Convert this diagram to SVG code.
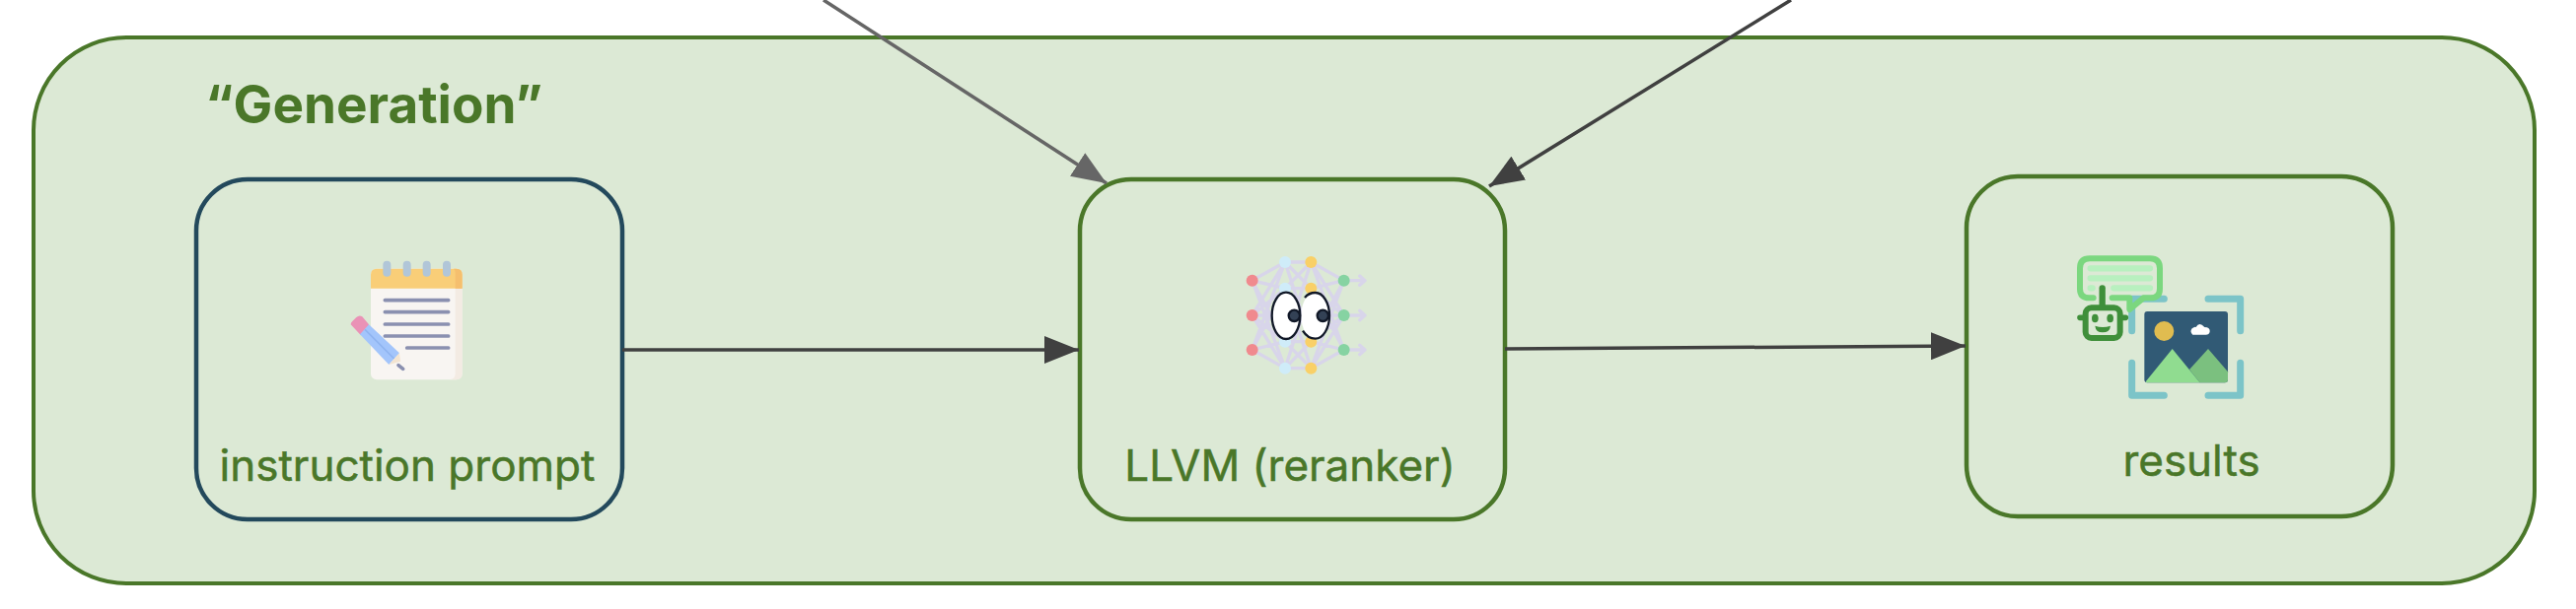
<svg xmlns="http://www.w3.org/2000/svg" width="2612" height="618" viewBox="0 0 2612 618">
<style>
text{font-family:Inter,"Liberation Sans",sans-serif;fill:#4a7729}
.lbl{font-size:44px;text-anchor:middle;stroke:#4a7729;stroke-width:.5}
.box{fill:none;stroke:#4a7729;stroke-width:4.5}
.c{fill:none;stroke:#404040;stroke-width:3.5}
.n{fill:none;stroke:#d8d5ea;stroke-width:10;stroke-linecap:round;stroke-linejoin:round}
</style>
<defs>
<marker id="ah" markerUnits="userSpaceOnUse" markerWidth="36" markerHeight="28" refX="35" refY="14" orient="auto"><path d="M0 0L35 14L0 28z" fill="#404040"/></marker>
<marker id="ahg" markerUnits="userSpaceOnUse" markerWidth="36" markerHeight="28" refX="35" refY="14" orient="auto"><path d="M0 0L35 14L0 28z" fill="#666"/></marker>
</defs>
<g id="generation-group">
<rect x="34" y="38" width="2536" height="554" rx="94" fill="#dce9d5" stroke="#4a7729" stroke-width="4"/>
<text x="208" y="125" font-size="53" font-weight="700">“Generation”</text>
</g>
<g id="instruction-prompt">
<rect x="199" y="182" width="432" height="345" rx="52" fill="none" stroke="#23495c" stroke-width="4.5"/>
<g transform="translate(340 250) scale(.33333)">
<rect x="108" y="68" width="278" height="338" rx="18" fill="#f8f5f2"/>
<path d="M365 128H386V388Q386 406 368 406H345Q365 406 365 388z" fill="#f3ebe3"/>
<path d="M108 128V86Q108 68 126 68H368Q386 68 386 86V128z" fill="#f9ce78"/>
<path d="M360 68H368Q386 68 386 86V128H365V80Q365 72 360 68z" fill="#f5bf6e"/>
<g fill="none" stroke="#b1c6d8" stroke-width="24" stroke-linecap="round"><path d="M157 56V80M218 56V80M278 56V80M339 56V80"/></g>
<g fill="none" stroke="#8a90b0" stroke-width="11" stroke-linecap="round"><path d="M151 164H344M151 200H344M151 237H344M151 273H344M218 309H344M192 362L206 373"/></g>
<path d="M73 214L102 238L195 325L163 360L75 268z" fill="#a3c5fb"/>
<path d="M90 253L179 342" stroke="#8fb4f0" stroke-width="5" fill="none"/>
<path d="M47 238Q47 232 52 228L64 216Q73 208 82 214L102 238L75 268z" fill="#ea92b6"/>
<path d="M195 325L198 350L163 360z" fill="#f3e4d0"/>
</g>
<text class="lbl" x="413" y="488">instruction prompt</text>
</g>
<g id="reranker">
<rect class="box" x="1095" y="182" width="431" height="345" rx="52"/>
<g transform="translate(1220 240) scale(.33333)">
<path class="n" d="M149 134L249 78L328 78L428 134M149 134L249 158L328 158L428 134M149 134L249 320L328 320L428 134M149 134L249 401L328 401L428 134M149 240L249 78L328 158L428 240M149 240L249 158L328 78L428 240M149 240L249 320L328 401L428 240M149 240L249 401L328 320L428 240M149 345L249 78L328 320L428 345M149 345L249 158L328 401L428 345M149 345L249 320L328 78L428 345M149 345L249 401L328 158L428 345M149 240H428M428 134H490M476 120L492 134L476 148M428 240H490M476 226L492 240L476 254M428 345H490M476 331L492 345L476 359"/>
<g fill="#f08a8e"><circle cx="149" cy="134" r="18"/><circle cx="149" cy="240" r="18"/><circle cx="149" cy="345" r="18"/></g>
<g fill="#cfecf9"><circle cx="249" cy="78" r="18"/><circle cx="249" cy="158" r="18"/><circle cx="249" cy="320" r="18"/><circle cx="249" cy="401" r="18"/></g>
<g fill="#f9d067"><circle cx="328" cy="78" r="18"/><circle cx="328" cy="158" r="18"/><circle cx="328" cy="320" r="18"/><circle cx="328" cy="401" r="18"/></g>
<g fill="#86d3a2"><circle cx="428" cy="134" r="18"/><circle cx="428" cy="240" r="18"/><circle cx="428" cy="345" r="18"/></g>
<ellipse cx="341" cy="241" rx="43" ry="71" fill="#fff"/>
<path d="M309 186C318 175 330 171 341 171C365 171 384 203 384 241C384 279 365 311 341 311C326 311 313 303 303 287" fill="none" stroke="#111827" stroke-width="7"/>
<circle cx="364" cy="241" r="17" fill="#334155" stroke="#111827" stroke-width="7"/>
<ellipse cx="252" cy="241" rx="43" ry="71" fill="#fff" stroke="#111827" stroke-width="7"/>
<circle cx="277" cy="241" r="17" fill="#334155" stroke="#111827" stroke-width="7"/>
</g>
<text class="lbl" x="1308" y="488">LLVM (reranker)</text>
</g>
<g id="results">
<rect class="box" x="1994" y="179" width="432" height="345" rx="52"/>
<g transform="translate(2080 240) scale(.33333)">
<path d="M245 287V190H343M477 190H575V287M245 385V484H343M477 484H575V385" fill="none" stroke="#7cc4c8" stroke-width="21" stroke-linejoin="round" stroke-linecap="round"/>
<rect x="283" y="228" width="254" height="217" rx="9" fill="#315a75"/>
<circle cx="343" cy="288" r="30" fill="#e0bc50"/>
<path d="M430 299Q420 290 428 280Q436 274 440 276Q450 258 466 276Q484 276 482 290Q480 299 470 299z" fill="#fff"/>
<path d="M420 405L477 342L537 412V435Q537 445 527 445H452z" fill="#7bc07f"/>
<path d="M287 442L368 342L452 445H290z" fill="#90dc90"/>
<path d="M128 187H115Q87 187 87 159V97Q87 67 117 67H300Q330 67 330 97V159Q330 187 302 187H280L238 222V187H185" fill="none" stroke="#7bd77f" stroke-width="18" stroke-linecap="round" stroke-linejoin="round"/>
<g fill="none" stroke="#b8f0bf" stroke-width="19" stroke-linecap="round"><path d="M119 97H300M119 127H300M119 157H125M190 157H300"/></g>
<g fill="none" stroke="#3f8f3a" stroke-linecap="round"><path d="M155 157V210" stroke-width="19"/><rect x="104" y="217" width="105" height="92" rx="18" stroke-width="18"/><path d="M87 247H95M218 247H226" stroke-width="17"/></g>
<g fill="#3f8f3a"><ellipse cx="133" cy="249" rx="10" ry="13"/><ellipse cx="179" cy="249" rx="10" ry="13"/><path d="M133 272Q156 280 180 272Q178 292 156 292Q135 292 133 272z"/></g>
</g>
<text class="lbl" x="2222" y="483">results</text>
</g>
<g id="connectors">
<path class="c" d="M631 355H1094" marker-end="url(#ah)"/>
<path class="c" d="M1526 354L1993 351" marker-end="url(#ah)"/>
<path d="M835 0L1122 186" fill="none" stroke="#666" stroke-width="3.5" marker-end="url(#ahg)"/>
<path class="c" d="M1816 0L1510 189" marker-end="url(#ah)"/>
</g>
</svg>
